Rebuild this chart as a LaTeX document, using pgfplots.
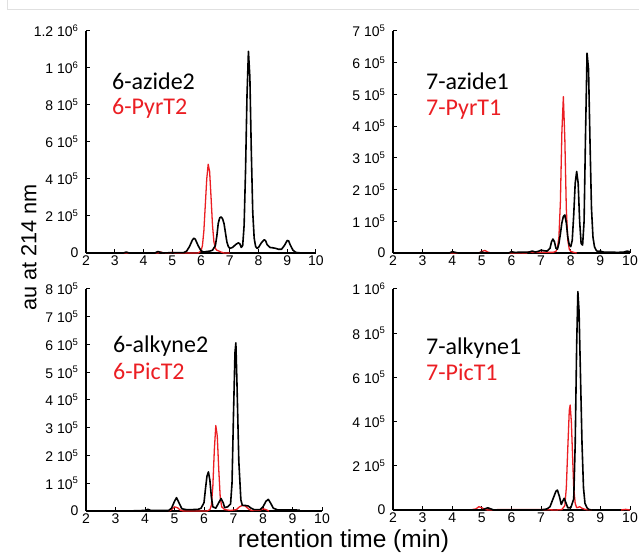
\documentclass[border=0pt]{standalone}
\usepackage{fontspec}
\setmainfont{Liberation Sans}
\newfontfamily\calfont{Carlito}
\usepackage{pgfplots}
\pgfplotsset{compat=1.18}

\definecolor{trred}{RGB}{235,30,35}

\newcommand{\tl}[1]{{\fontsize{14}{16}\selectfont #1}}
\newcommand{\sci}[2]{{\fontsize{14}{16}\selectfont #1 10\textsuperscript{\fontsize{9.5}{10}\selectfont #2}}}

% data in units of 10^5 au
\pgfplotsset{
  chrom/.style={
    scale only axis,
    axis lines*=left,
    tick align=inside,
    xmin=2, xmax=10, ymin=0,
    xtick={2,...,10},
    xticklabels={\tl{2},\tl{3},\tl{4},\tl{5},\tl{6},\tl{7},\tl{8},\tl{9},\tl{10}},
    major tick length=4pt,
    axis line style={line width=1.2pt, black},
    tick style={line width=1pt, black},
    xticklabel style={yshift=1pt},
    yticklabel style={xshift=-4pt},
    clip=false,
  },
  blk/.style={black, line width=1.6pt, line join=round},
  rd/.style={trred, line width=1.3pt, line join=round},
}

\begin{document}
\begin{tikzpicture}[x=1pt,y=1pt]
\path[use as bounding box] (0,0) rectangle (639,556);
\draw[black!12, line width=0.8pt] (7,556) -- (7,547) -- (639,547);

% 6-azide2 / 6-PyrT2
\begin{axis}[chrom, at={(86pt,303pt)}, anchor=south west,
  width=230pt, height=222pt, ymax=12,
  ytick={0,2,4,6,8,10,12},
  yticklabels={\tl{0},\sci{2}{5},\sci{4}{5},\sci{6}{5},\sci{8}{5},\sci{1}{6},\sci{1.2}{6}}]
\addplot[rd] coordinates {
(2.0,0) (4.5,0) (4.6,0.05) (4.7,0) (4.95,0) (5.0,0.04) (5.1,0) (5.9,0)
(6.0,0.1) (6.05,0.4) (6.1,1.2) (6.15,2.6) (6.2,4.0) (6.25,4.8) (6.3,4.4)
(6.35,3.0) (6.4,1.5) (6.45,0.6) (6.5,0.25) (6.55,0.15) (6.6,0.12) (6.7,0.05)
(6.8,0) (7.0,0)};
\addplot[blk] coordinates {
(2.0,0) (3.3,0) (3.4,0.05) (3.5,0) (4.4,0) (4.5,0.08) (4.6,0.03) (4.7,0)
(5.0,0.02) (5.4,0.02) (5.5,0.1) (5.6,0.35) (5.7,0.7) (5.75,0.8) (5.8,0.75)
(5.9,0.4) (6.0,0.12) (6.1,0.05) (6.2,0.08) (6.3,0.1) (6.4,0.15) (6.5,0.4)
(6.55,0.9) (6.6,1.6) (6.65,1.9) (6.7,1.95) (6.75,1.85) (6.8,1.6) (6.85,1.1)
(6.9,0.6) (6.95,0.35) (7.0,0.25) (7.1,0.3) (7.2,0.45) (7.3,0.55) (7.35,0.5)
(7.4,0.3) (7.45,0.4) (7.5,1.5) (7.55,4.5) (7.6,8.5) (7.65,10.9) (7.7,9.5)
(7.75,5.5) (7.8,2.2) (7.85,0.8) (7.9,0.35) (7.95,0.25) (8.0,0.3) (8.1,0.55)
(8.2,0.72) (8.25,0.65) (8.3,0.45) (8.4,0.3) (8.5,0.28) (8.6,0.25) (8.7,0.2)
(8.8,0.2) (8.9,0.4) (9.0,0.68) (9.05,0.65) (9.1,0.45) (9.2,0.15) (9.3,0.03)
(9.5,0) (9.8,0)};
\end{axis}

% 7-azide1 / 7-PyrT1
\begin{axis}[chrom, at={(393pt,303pt)}, anchor=south west,
  width=237pt, height=222pt, ymax=7,
  ytick={0,1,2,3,4,5,6,7},
  yticklabels={\tl{0},\sci{1}{5},\sci{2}{5},\sci{3}{5},\sci{4}{5},\sci{5}{5},\sci{6}{5},\sci{7}{5}}]
\addplot[rd] coordinates {
(2.0,0) (4.9,0) (5.0,0.05) (5.1,0.08) (5.2,0.03) (5.3,0) (6.5,0) (6.6,0.04)
(6.7,0.02) (7.4,0.02) (7.5,0.05) (7.55,0.15) (7.6,0.5) (7.65,1.6) (7.7,3.8)
(7.75,4.93) (7.8,3.6) (7.85,1.4) (7.9,0.4) (7.95,0.12) (8.0,0.05) (8.1,0.02)
(8.2,0)};
\addplot[blk] coordinates {
(2.0,0) (3.9,0) (4.0,0.04) (4.1,0.02) (4.2,0) (4.9,0) (5.0,0.03) (5.1,0)
(5.9,0) (6.0,0.04) (6.1,0.02) (6.6,0.03) (6.7,0.06) (6.8,0.03) (6.9,0.05)
(7.0,0.09) (7.1,0.07) (7.2,0.06) (7.3,0.15) (7.35,0.35) (7.4,0.44) (7.45,0.35)
(7.5,0.15) (7.55,0.12) (7.6,0.3) (7.65,0.6) (7.7,0.95) (7.75,1.15) (7.8,1.2)
(7.85,0.95) (7.9,0.5) (7.95,0.25) (8.0,0.2) (8.05,0.4) (8.1,1.2) (8.15,2.2)
(8.2,2.57) (8.25,2.2) (8.3,1.0) (8.35,0.3) (8.4,0.25) (8.45,1.0) (8.5,3.8)
(8.55,6.3) (8.6,5.8) (8.65,3.5) (8.7,1.4) (8.75,0.5) (8.8,0.2) (8.85,0.1)
(8.9,0.05) (9.0,0.06) (9.1,0.03) (9.6,0.02) (9.8,0.03) (9.9,0.06) (10,0.04)};
\end{axis}

% 6-alkyne2 / 6-PicT2
\begin{axis}[chrom, at={(86pt,45pt)}, anchor=south west,
  width=236pt, height=222pt, ymax=8,
  ytick={0,1,2,3,4,5,6,7,8},
  yticklabels={\tl{0},\sci{1}{5},\sci{2}{5},\sci{3}{5},\sci{4}{5},\sci{5}{5},\sci{6}{5},\sci{7}{5},\sci{8}{5}}]
\addplot[rd] coordinates {
(4.8,0) (4.9,0.05) (5.0,0.15) (5.1,0.12) (5.2,0.03) (5.3,0) (6.1,0) (6.2,0.05)
(6.25,0.2) (6.3,0.9) (6.35,2.2) (6.4,3.08) (6.45,2.7) (6.5,1.5) (6.55,0.5)
(6.6,0.15) (6.7,0.05) (6.9,0.02) (7.1,0.05) (7.2,0.15) (7.3,0.2) (7.4,0.18)
(7.5,0.08) (7.6,0.02) (7.9,0.03) (8.0,0.08) (8.1,0.05) (8.2,0)};
\addplot[blk] coordinates {
(3.4,0) (4.0,0.02) (4.1,0.06) (4.2,0.02) (4.8,0.02) (4.9,0.1) (5.0,0.35)
(5.07,0.48) (5.15,0.3) (5.25,0.08) (5.4,0.05) (5.6,0.05) (5.8,0.06) (5.9,0.1)
(6.0,0.3) (6.05,0.8) (6.1,1.25) (6.15,1.41) (6.2,1.1) (6.25,0.5) (6.3,0.15)
(6.4,0.1) (6.5,0.3) (6.58,0.45) (6.65,0.3) (6.7,0.12) (6.8,0.15) (6.9,0.25)
(6.95,1.0) (7.0,3.5) (7.05,5.7) (7.08,6.06) (7.12,4.5) (7.18,1.8) (7.25,0.4)
(7.3,0.2) (7.4,0.2) (7.5,0.18) (7.6,0.1) (7.7,0.05) (7.9,0.05) (8.0,0.15)
(8.1,0.35) (8.18,0.42) (8.25,0.3) (8.35,0.1) (8.5,0.04) (9.0,0.04) (9.25,0.03)};
\end{axis}

% 7-alkyne1 / 7-PicT1
\begin{axis}[chrom, at={(393pt,46pt)}, anchor=south west,
  width=237pt, height=221pt, ymax=10,
  ytick={0,2,4,6,8,10},
  yticklabels={\tl{0},\sci{2}{5},\sci{4}{5},\sci{6}{5},\sci{8}{5},\sci{1}{6}}]
\addplot[rd] coordinates {
(4.6,0) (4.8,0.05) (4.9,0.15) (5.0,0.1) (5.1,0.03) (5.2,0) (5.6,0.02)
(7.0,0.02) (7.5,0) (7.7,0.02) (7.8,0.2) (7.85,1.0) (7.9,2.8) (7.95,4.5)
(7.98,4.75) (8.02,4.0) (8.06,2.5) (8.1,1.0) (8.15,0.3) (8.2,0.1) (8.25,0.12)
(8.3,0.15) (8.38,0.08) (8.5,0.02) (8.7,0)};
\addplot[rd] coordinates {(9.7,0) (9.85,0.03) (10,0)};
\addplot[blk] coordinates {
(2.5,0) (5.0,0) (5.1,0.05) (5.2,0.1) (5.3,0.05) (5.4,0) (7.0,0) (7.2,0.05)
(7.3,0.15) (7.4,0.5) (7.5,0.85) (7.55,0.9) (7.62,0.6) (7.68,0.25) (7.73,0.4)
(7.78,0.53) (7.83,0.35) (7.9,0.1) (8.0,0.1) (8.1,0.5) (8.15,3.0) (8.2,7.5)
(8.24,9.88) (8.28,9.0) (8.33,6.0) (8.38,3.0) (8.43,1.0) (8.48,0.3) (8.55,0.1)
(8.6,0.03) (8.7,0)};
\end{axis}

% sample names
\begin{scope}[every node/.style={anchor=base west, inner sep=0pt,
    font=\calfont\fontsize{24}{28}\selectfont}]
\node at (112,466) {6-azide2};
\node[text=trred] at (112,441) {6-PyrT2};
\node at (426,466) {7-azide1};
\node[text=trred] at (426,440) {7-PyrT1};
\node at (113,203) {6-alkyne2};
\node[text=trred] at (113,176) {6-PicT2};
\node at (426,201) {7-alkyne1};
\node[text=trred] at (426,175) {7-PicT1};
\end{scope}

% axis titles
\node[rotate=90, font=\fontsize{21.7}{26}\selectfont] at (29,308.5) {au at 214 nm};
\node[font=\fontsize{24.5}{29}\selectfont] at (343.5,15) {retention time (min)};
\end{tikzpicture}
\end{document}
